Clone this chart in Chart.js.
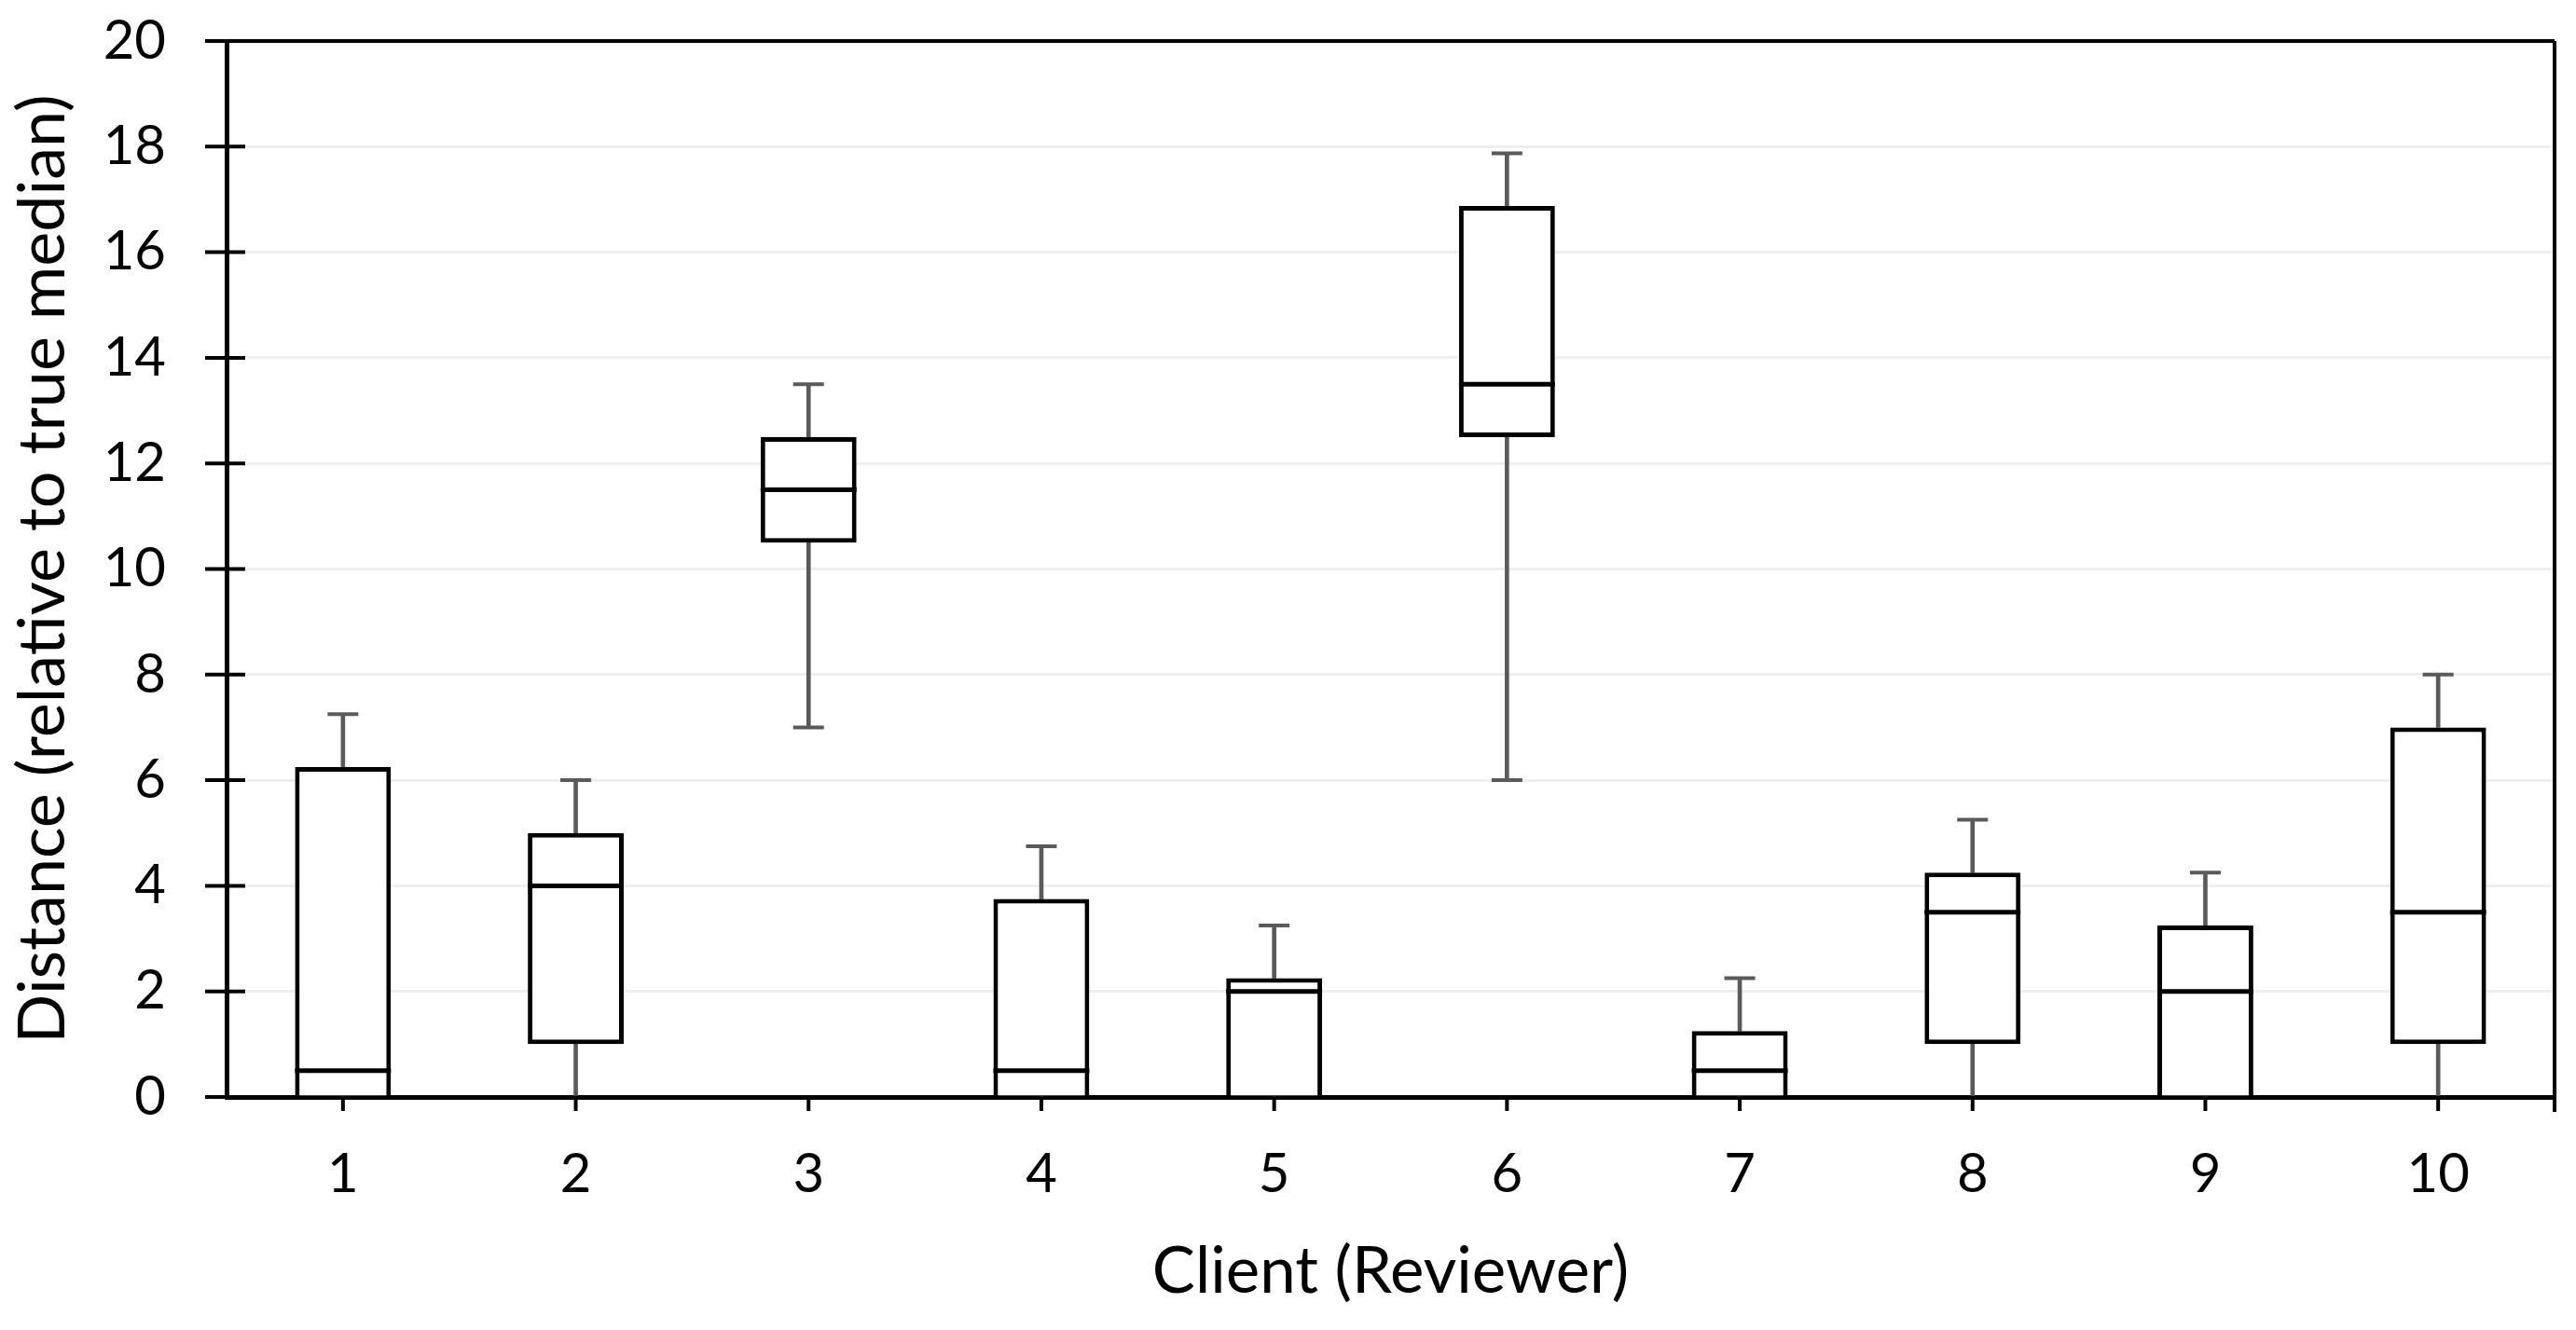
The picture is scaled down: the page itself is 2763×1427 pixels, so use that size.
<!DOCTYPE html>
<html>
<head>
<meta charset="utf-8">
<title>Distance by client</title>
<script src="https://cdn.jsdelivr.net/npm/chart.js@4/dist/chart.umd.min.js"></script>
<style>
  html, body { margin: 0; padding: 0; background: #fff; }
  #wrap { width: 2763px; height: 1427px; position: relative; }
</style>
</head>
<body>
<div id="wrap"><canvas id="chart"></canvas></div>
<script>
// box plot por cliente (revisor): min, cuartiles, mediana, max
const clients = ["1", "2", "3", "4", "5", "6", "7", "8", "9", "10"];
const mins    = [0,    0,   7,    0,    0,    6,      0,    0,    0,    0];
const q1s     = [0,    1,   10.5, 0,    0,    12.5,   0,    1,    0,    1];
const medians = [0.5,  4,   11.5, 0.5,  2,    13.5,   0.5,  3.5,  2,    3.5];
const q3s     = [6.25, 5,   12.5, 3.75, 2.25, 16.875, 1.25, 4.25, 3.25, 7];
const maxs    = [7.25, 6,   13.5, 4.75, 3.25, 17.875, 2.25, 5.25, 4.25, 8];
const yTicks  = [0, 2, 4, 6, 8, 10, 12, 14, 16, 18, 20];

const BOX_FRAC = 0.412;   // ancho de la caja relativo a la categoría
const WHISKER = "#5a5a5a";
const FONT = "Lato, 'Open Sans', sans-serif";

const boxes = q1s.map((v, i) => [v, q3s[i]]);
const lowWhisk = mins.map((v, i) => [v, q1s[i]]);
const highWhisk = q3s.map((v, i) => [v, maxs[i]]);
const minCaps = mins.map((v) => (v > 0 ? v : null)); // en 0 el eje lo tapa
const boxHalf = (c) => (c.chart.scales.x ? c.chart.scales.x.width / clients.length * BOX_FRAC / 2 : 50);

// marco: ticks cruzando el eje Y, ticks del eje X, borde superior y derecho
const frame = {
  id: "frame",
  afterDraw(chart) {
    const { ctx, chartArea: a, scales: { x, y } } = chart;
    ctx.save();
    ctx.strokeStyle = "#000";
    ctx.lineWidth = 4;
    ctx.beginPath();
    yTicks.forEach((t) => {
      const py = y.getPixelForValue(t);
      ctx.moveTo(a.left - 23, py);
      ctx.lineTo(a.left + 20, py);
    });
    clients.forEach((_, i) => {
      const px = x.getPixelForValue(i);
      ctx.moveTo(px, a.bottom);
      ctx.lineTo(px, a.bottom + 15);
    });
    ctx.moveTo(a.left - 23, a.top);
    ctx.lineTo(a.right, a.top);
    ctx.moveTo(a.right, a.top);
    ctx.lineTo(a.right, a.bottom + 16);
    ctx.stroke();
    ctx.restore();
  },
};

new Chart(document.getElementById("chart"), {
  type: "bar",
  data: {
    labels: clients,
    datasets: [
      { data: lowWhisk, backgroundColor: WHISKER, borderWidth: 0, barThickness: 4, order: 3 },
      { data: highWhisk, backgroundColor: WHISKER, borderWidth: 0, barThickness: 4, order: 3 },
      {
        data: boxes, backgroundColor: "#fff", borderColor: "#000", borderWidth: 5,
        borderSkipped: (c) => (q1s[c.dataIndex] === 0 ? "bottom" : false),
        barPercentage: BOX_FRAC, categoryPercentage: 1, order: 2,
      },
      {
        type: "line", data: medians, showLine: false, pointStyle: "line",
        pointRadius: boxHalf, pointBorderWidth: 5, pointBorderColor: "#000", order: 1,
      },
      {
        type: "line", data: maxs, showLine: false, pointStyle: "line",
        pointRadius: 16.5, pointBorderWidth: 4, pointBorderColor: WHISKER, order: 1,
      },
      {
        type: "line", data: minCaps, showLine: false, pointStyle: "line",
        pointRadius: 16.5, pointBorderWidth: 4, pointBorderColor: WHISKER, order: 1,
      },
    ],
  },
  options: {
    responsive: true,
    maintainAspectRatio: false,
    animation: false,
    layout: { padding: { top: 44, right: 23, left: 0, bottom: 0 } },
    datasets: { bar: { grouped: false } },
    plugins: { legend: { display: false }, tooltip: { enabled: false } },
    scales: {
      x: {
        offset: true,
        grid: { display: false, drawTicks: false },
        border: { color: "#000", width: 5 },
        ticks: { color: "#000", font: { family: FONT, size: 58 }, padding: 48 },
        title: {
          display: true, text: "Client (Reviewer)", color: "#000",
          font: { family: FONT, size: 69 }, padding: { top: 0, bottom: 21 },
        },
        afterFit: (s) => { s.height = 250; s.paddingLeft = 0; s.paddingRight = 0; },
      },
      y: {
        min: 0,
        max: 20,
        ticks: { stepSize: 2, color: "#000", font: { family: FONT, size: 58 }, padding: 65 },
        grid: { color: "#efefef", lineWidth: 3, drawTicks: false },
        border: { color: "#000", width: 5 },
        title: {
          display: true, text: "Distance (relative to true median)", color: "#000",
          font: { family: FONT, size: 70 }, padding: { top: 4, bottom: 0 },
        },
        afterFit: (s) => { s.width = 243; s.paddingTop = 0; s.paddingBottom = 0; },
      },
    },
  },
  plugins: [frame],
});
</script>
</body>
</html>
